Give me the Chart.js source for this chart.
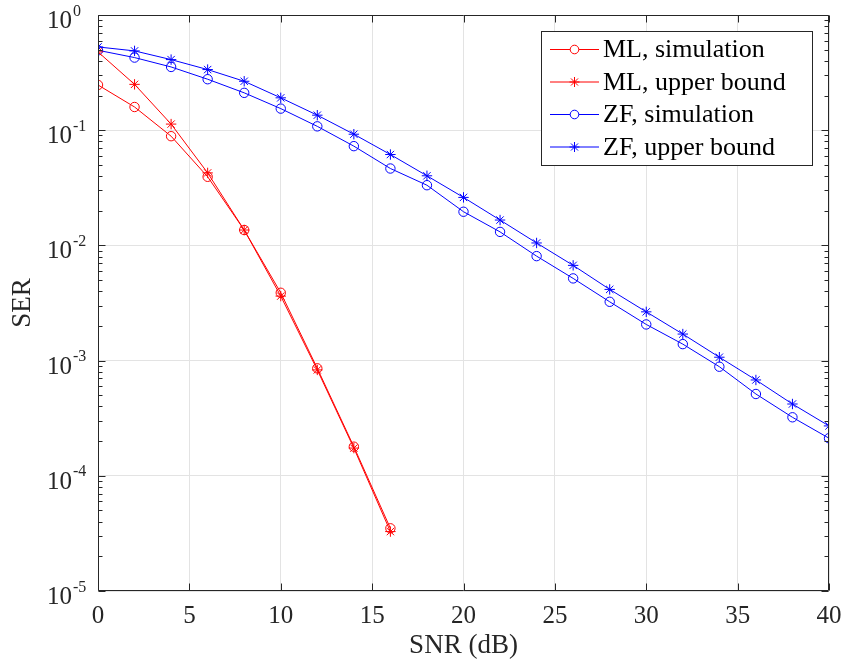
<!DOCTYPE html>
<html>
<head>
<meta charset="utf-8">
<script src="https://cdn.jsdelivr.net/npm/chart.js@4.4.1/dist/chart.umd.min.js"></script>
<style>
  html, body { margin: 0; padding: 0; background: #fff; }
</style>
</head>
<body>
<canvas id="serChart" width="847" height="665"></canvas>
<script>
  // SNR points (dB)
  var snrML = [0, 2, 4, 6, 8, 10, 12, 14, 16];
  var snrZF = [0, 2, 4, 6, 8, 10, 12, 14, 16, 18, 20, 22, 24, 26, 28, 30, 32, 34, 36, 38, 40];

  // SER values
  var mlSim   = [0.247, 0.159, 0.0887, 0.0394, 0.0136, 0.00388, 0.000857, 0.000179, 0.000035];
  var mlBound = [0.478, 0.25, 0.113, 0.0426, 0.0136, 0.00363, 0.00083, 0.000174, 0.0000328];
  var zfSim   = [0.494, 0.427, 0.354, 0.277, 0.211, 0.154, 0.108, 0.0727, 0.0465, 0.0333, 0.0196,
                 0.0131, 0.00807, 0.00517, 0.00324, 0.00206, 0.00139, 0.000885, 0.000513, 0.000322, 0.000212];
  var zfBound = [0.528, 0.488, 0.410, 0.336, 0.266, 0.191, 0.135, 0.0923, 0.0615, 0.0402, 0.0261,
                 0.0166, 0.0105, 0.00671, 0.00415, 0.00265, 0.0017, 0.00107, 0.000679, 0.00042, 0.000271];

  var seriesLabels = ['ML, simulation', 'ML, upper bound', 'ZF, simulation', 'ZF, upper bound'];
  var yTickExps = [0, -1, -2, -3, -4, -5];

  var SERIF = '"Liberation Serif", "DejaVu Serif", serif';
  var AXIS_COLOR = '#262626';

  function pts(xs, ys) {
    return xs.map(function (x, i) { return { x: x, y: ys[i] }; });
  }

  function series(label, xs, ys, color, style) {
    return {
      label: label,
      data: pts(xs, ys),
      borderColor: color,
      borderWidth: 1,
      pointStyle: style,
      pointRadius: style === 'circle' ? 4.7 : 5.2,
      pointBorderColor: color,
      pointBackgroundColor: 'rgba(0,0,0,0)',
      pointBorderWidth: 1,
      tension: 0,
      fill: false
    };
  }

  // y tick labels with superscript exponents (10^n)
  var yLabels = {
    id: 'yLabels',
    afterDraw: function (chart) {
      var ctx = chart.ctx, y = chart.scales.y;
      ctx.save();
      ctx.fillStyle = AXIS_COLOR;
      ctx.textAlign = 'left';
      ctx.textBaseline = 'alphabetic';
      yTickExps.forEach(function (e) {
        var py = y.getPixelForValue(Math.pow(10, e));
        ctx.font = '25px ' + SERIF;
        var baseW = ctx.measureText('10').width;
        ctx.fillText('10', 72 - baseW, py + 13);
        ctx.font = '16px ' + SERIF;
        ctx.fillText(String(e), 73, py + 0.5);
      });
      ctx.restore();
    }
  };

  // box round the axes with inward ticks, like the original
  var axesBox = {
    id: 'axesBox',
    afterDatasetsDraw: function (chart) {
      var ctx = chart.ctx, a = chart.chartArea;
      var xs = chart.scales.x, ys = chart.scales.y;
      var L = Math.round(a.left) + 0.5, R = Math.round(a.right) - 0.5;
      var T = Math.round(a.top) + 0.5, B = Math.round(a.bottom) - 0.5;
      ctx.save();
      ctx.strokeStyle = AXIS_COLOR;
      ctx.lineWidth = 1;
      ctx.beginPath();
      ctx.rect(L, T, R - L, B - T);
      xs.ticks.forEach(function (t) {
        var px = Math.round(xs.getPixelForValue(t.value)) + 0.5;
        ctx.moveTo(px, B); ctx.lineTo(px, B - 7);
        ctx.moveTo(px, T); ctx.lineTo(px, T + 7);
      });
      yTickExps.forEach(function (e) {
        var py = Math.round(ys.getPixelForValue(Math.pow(10, e))) + 0.5;
        ctx.moveTo(L, py); ctx.lineTo(L + 7, py);
        ctx.moveTo(R, py); ctx.lineTo(R - 7, py);
        if (e === 0) return;
        for (var k = 2; k <= 9; k++) {
          var my = Math.round(ys.getPixelForValue(k * Math.pow(10, e))) + 0.5;
          ctx.moveTo(L, my); ctx.lineTo(L + 4, my);
          ctx.moveTo(R, my); ctx.lineTo(R - 4, my);
        }
      });
      ctx.stroke();
      ctx.restore();
    }
  };

  // boxed legend in the top right corner
  var boxLegend = {
    id: 'boxLegend',
    afterDraw: function (chart) {
      var ctx = chart.ctx;
      var bx = 541.5, by = 31.5, bw = 271, bh = 134;
      ctx.save();
      ctx.fillStyle = '#fff';
      ctx.fillRect(bx, by, bw, bh);
      ctx.strokeStyle = AXIS_COLOR;
      ctx.lineWidth = 1;
      ctx.strokeRect(bx, by, bw, bh);
      chart.data.datasets.forEach(function (ds, i) {
        var ry = 49.5 + i * 32.5;
        ctx.strokeStyle = ds.borderColor;
        ctx.lineWidth = 1;
        ctx.beginPath();
        ctx.moveTo(550, ry); ctx.lineTo(599, ry);
        ctx.stroke();
        ctx.fillStyle = '#fff';
        ctx.strokeStyle = ds.borderColor;
        Chart.helpers.drawPoint(ctx, {
          pointStyle: ds.pointStyle,
          radius: ds.pointStyle === 'circle' ? 4.3 : 5,
          borderWidth: 1
        }, 574.5, ry);
        ctx.fillStyle = '#000';
        ctx.font = '26px ' + SERIF;
        ctx.textAlign = 'left';
        ctx.textBaseline = 'middle';
        ctx.fillText(ds.label, 603, ry + 1);
      });
      ctx.restore();
    }
  };

  var ctx = document.getElementById('serChart').getContext('2d');
  window.serChart = new Chart(ctx, {
    type: 'line',
    data: {
      datasets: [
        series(seriesLabels[0], snrML, mlSim, '#ff0000', 'circle'),
        series(seriesLabels[1], snrML, mlBound, '#ff0000', 'star'),
        series(seriesLabels[2], snrZF, zfSim, '#0000ff', 'circle'),
        series(seriesLabels[3], snrZF, zfBound, '#0000ff', 'star')
      ]
    },
    options: {
      responsive: false,
      animation: false,
      layout: { padding: { left: 0, top: 15, right: 18, bottom: 0 } },
      plugins: {
        legend: { display: false },
        tooltip: { enabled: false }
      },
      scales: {
        x: {
          type: 'linear',
          min: 0,
          max: 40,
          afterFit: function (s) {
            s.height = 74;
            s.paddingLeft = 0;
            s.paddingRight = 0;
          },
          ticks: {
            stepSize: 5,
            padding: 10,
            color: AXIS_COLOR,
            font: { family: SERIF, size: 25 }
          },
          grid: { color: '#e3e3e3', drawTicks: false },
          border: { display: false },
          title: {
            display: true,
            text: 'SNR (dB)',
            color: AXIS_COLOR,
            font: { family: SERIF, size: 27 },
            padding: { top: 0, bottom: 3 }
          }
        },
        y: {
          type: 'logarithmic',
          min: 1e-5,
          max: 1,
          afterFit: function (s) { s.width = 98; },
          afterBuildTicks: function (s) {
            s.ticks = yTickExps.map(function (e) { return { value: Math.pow(10, e) }; });
          },
          ticks: { display: false },
          grid: { color: '#e3e3e3', drawTicks: false },
          border: { display: false },
          title: {
            display: true,
            text: 'SER',
            color: AXIS_COLOR,
            font: { family: SERIF, size: 27 },
            padding: { top: 7, bottom: 0 }
          }
        }
      }
    },
    plugins: [axesBox, yLabels, boxLegend]
  });
</script>
</body>
</html>
